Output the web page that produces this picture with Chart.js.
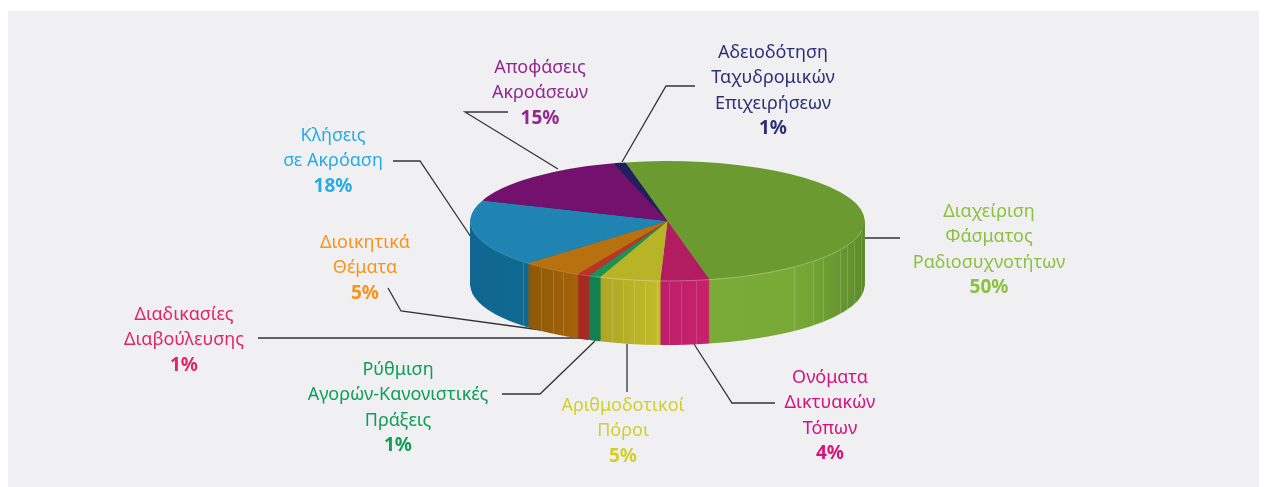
<!DOCTYPE html>
<html><head><meta charset="utf-8">
<script src="https://cdn.jsdelivr.net/npm/chart.js@4"></script>
<style>
html,body{margin:0;padding:0;background:#fff;overflow:hidden}
#panel{position:absolute;left:8px;top:11px;width:1251px;height:476px;background:#f0f0f2}
#c{position:absolute;left:0;top:0}
</style></head><body>
<div id="panel"></div>
<canvas id="c" width="1264" height="487"></canvas>
<script>
const categories = [
  ["Διαχείριση","Φάσματος","Ραδιοσυχνοτήτων"],
  ["Ονόματα","Δικτυακών","Τόπων"],
  ["Αριθμοδοτικοί","Πόροι"],
  ["Ρύθμιση","Αγορών-Κανονιστικές","Πράξεις"],
  ["Διαδικασίες","Διαβούλευσης"],
  ["Διοικητικά","Θέματα"],
  ["Κλήσεις","σε Ακρόαση"],
  ["Αποφάσεις","Ακροάσεων"],
  ["Αδειοδότηση","Ταχυδρομικών","Επιχειρήσεων"]
];
const values = [50,4,5,1,1,5,18,15,1];
const topColors = ["#6b9a30","#b21c60","#b8b428","#1e9158","#bb3428","#b8710f","#2084b2","#74106d","#20205e"];
const wallLeft  = ["#7aab37","#bb2068","#aca624","#15804f","#a62a22","#8c5808","#0f6690","#5a0c55","#181848"];
const wallRight = ["#5d8c2a","#c8216b","#c2bd2a","#15804f","#a62a22","#a5630a","#106a90","#5a0c55","#181848"];
const labelColors = ["#8cc03f","#d8127a","#cfd030","#0f9d58","#e0266a","#f7941d","#29abe2","#93278f","#2e3077"];
const labelX = [989,830,623,398,184,365,333,540,773];
const labelY = [217,383,411,375,320,248,141,73,58];
const leaders = [
  [[900,238],[864,238]],
  [[775,403],[732,403],[694,344]],
  [[627,392],[627,344]],
  [[502,394],[540,394],[595,341]],
  [[258,338],[585,338]],
  [[388,288],[401,311],[541,330]],
  [[393,161],[420,161],[471,237]],
  [[508,112],[465,112],[558,169]],
  [[695,86],[666,86],[622,162]]
];
const wallSeams = [140,132.6,127.8,118.6,114,109,101, 179.7,176,171.8, 196.5,193.2,189.9,186.7,183.2, 219.8,215.7,211.9, 227];
const tilt = 60/197, depth = 64, lineH = 25.4;
const fontFamily = '"Noto Sans"';

const pie3d = {
  id:'pie3d',
  beforeDatasetsDraw(chart){
    const ctx = chart.ctx, arcs = chart.getDatasetMeta(0).data;
    ctx.save();
    ctx.strokeStyle = '#333'; ctx.lineWidth = 1.3;
    leaders.forEach(l=>{ ctx.beginPath(); l.forEach((p,i)=> i?ctx.lineTo(p[0],p[1]):ctx.moveTo(p[0],p[1])); ctx.stroke(); });
    ctx.restore();

    const {x:cx,y:cy,outerRadius:r} = arcs[0].getProps(['x','y','outerRadius'],true);
    const grads = arcs.map((a,i)=>{
      const p = a.getProps(['startAngle','endAngle'],true);
      let xs=[Math.cos(p.startAngle),Math.cos(p.endAngle)];
      for(const k of [Math.PI,3*Math.PI]) if(p.startAngle<k&&p.endAngle>k) xs.push(-1);
      for(const k of [0,2*Math.PI]) if(p.startAngle<k&&p.endAngle>k) xs.push(1);
      const g = ctx.createLinearGradient(cx+r*Math.min(...xs),0,cx+r*Math.max(...xs),0);
      if(i===0){
        const g2 = ctx.createLinearGradient(cx+40,0,cx+r,0);
        g2.addColorStop(0,wallLeft[0]); g2.addColorStop(.55,'#79aa36'); g2.addColorStop(.72,'#6fa033');g2.addColorStop(1,wallRight[0]);
        return g2;
      }
      g.addColorStop(0,wallLeft[i]); g.addColorStop(1,wallRight[i]);
      return g;
    });
    const drawLayer = (off,fill)=>{
      ctx.save();
      ctx.translate(cx,cy+off); ctx.scale(1,tilt); ctx.translate(-cx,-cy);
      arcs.forEach((a,i)=>{
        const o=a.options;
        if(fill){ a.options=Object.assign({},o,{backgroundColor:grads[i],borderWidth:0}); a.draw(ctx); a.options=o; }
        else a.draw(ctx);
      });
      ctx.restore();
    };
    for(let d=depth;d>=1;d-=1) drawLayer(d,true);

    ctx.save();
    wallSeams.forEach(deg=>{
      const t=deg*Math.PI/180, x=cx+r*Math.sin(t), y=cy-r*tilt*Math.cos(t);
      ctx.strokeStyle='rgba(255,255,255,0.16)'; ctx.lineWidth=1;
      ctx.beginPath(); ctx.moveTo(Math.round(x)+.5,y+1); ctx.lineTo(Math.round(x)+.5,y+depth); ctx.stroke();
    });
    ctx.restore();

    drawLayer(0,false);

    ctx.save();
    ctx.strokeStyle='rgba(255,255,255,0.3)'; ctx.lineWidth=1;
    ctx.beginPath(); ctx.ellipse(cx,cy,r,r*tilt,0,0.15,Math.PI*0.62); ctx.stroke();
    ctx.strokeStyle='rgba(255,255,255,0.14)';
    ctx.beginPath(); ctx.ellipse(cx,cy,r,r*tilt,0,Math.PI*0.62,Math.PI); ctx.stroke();
    ctx.restore();
    return false;
  },
  afterDraw(chart){
    const ctx=chart.ctx;
    ctx.save(); ctx.textAlign='center'; ctx.textBaseline='alphabetic';
    categories.forEach((lines,i)=>{
      ctx.fillStyle=labelColors[i];
      ctx.font='400 18px '+fontFamily;
      lines.forEach((s,j)=>ctx.fillText(s,labelX[i],labelY[i]+j*lineH));
      ctx.font='700 19px '+fontFamily;
      ctx.fillText(values[i]+'%',labelX[i],labelY[i]+lines.length*lineH);
    });
    ctx.restore();
  }
};

new Chart(document.getElementById('c'),{
  type:'pie',
  data:{labels:categories.map(l=>l.join(' ')),datasets:[{data:values,backgroundColor:topColors,borderWidth:0}]},
  options:{
    responsive:false,animation:false,rotation:-12.3,
    layout:{padding:{left:470.5,right:1264-864.5,top:221-197,bottom:487-418}},
    plugins:{legend:{display:false},tooltip:{enabled:false},title:{display:false}},
  },
  plugins:[pie3d]
});
</script>
</body></html>
